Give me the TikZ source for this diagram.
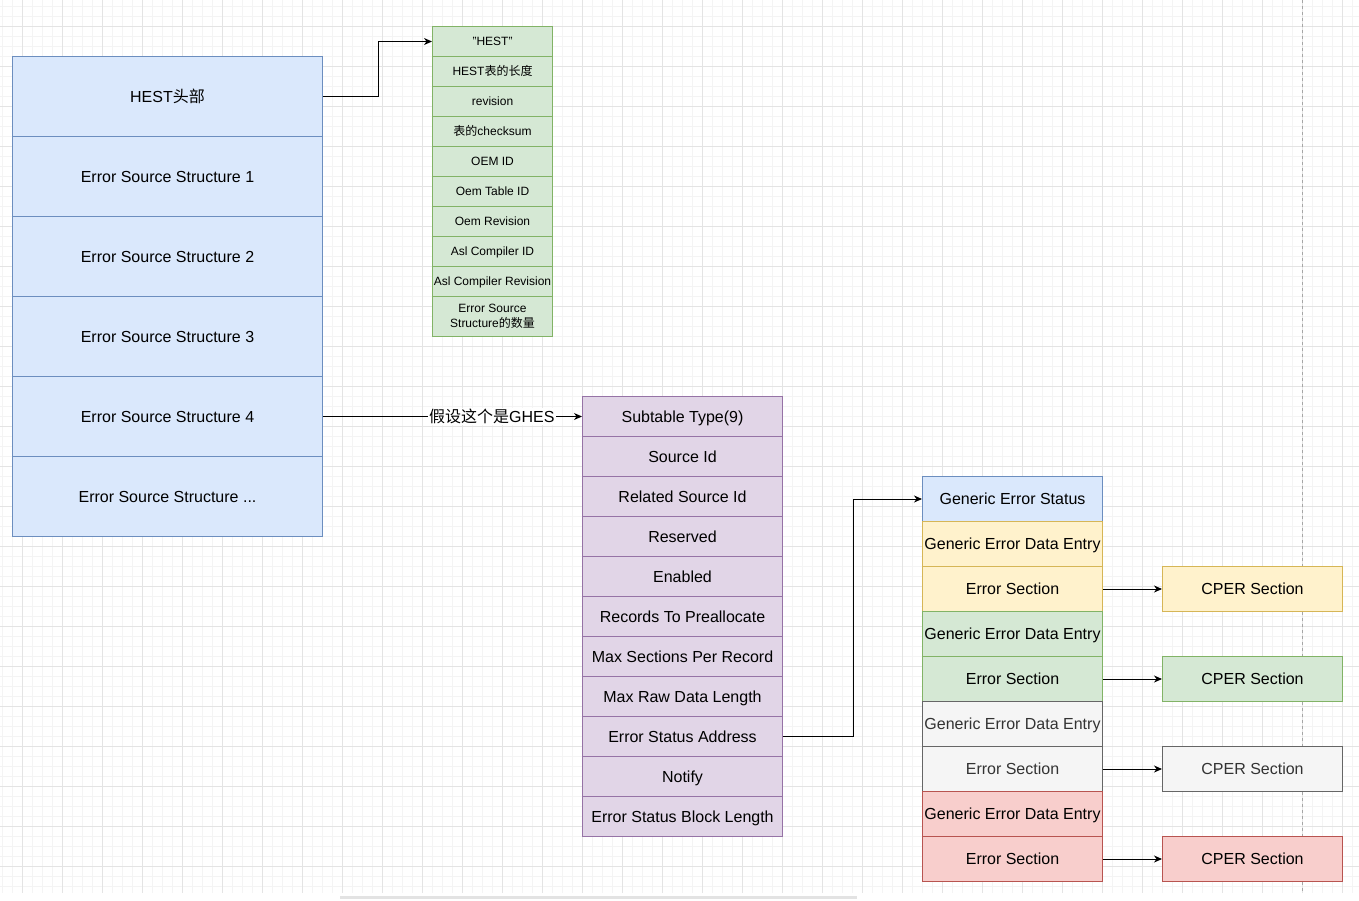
\documentclass[tikz,border=0pt]{standalone}
\usepackage{fontspec}
\setmainfont{Liberation Sans}
\newfontfamily\cjk{Noto Sans CJK SC}
\usetikzlibrary{arrows.meta,calc}
\definecolor{bluefill}{HTML}{DAE8FC}\definecolor{bluedraw}{HTML}{6C8EBF}
\definecolor{greenfill}{HTML}{D5E8D4}\definecolor{greendraw}{HTML}{82B366}
\definecolor{purplefill}{HTML}{E1D5E7}\definecolor{purpledraw}{HTML}{9673A6}
\definecolor{yellowfill}{HTML}{FFF2CC}\definecolor{yellowdraw}{HTML}{D6B656}
\definecolor{grayfill}{HTML}{F5F5F5}\definecolor{graydraw}{HTML}{666666}\definecolor{graytext}{HTML}{333333}
\definecolor{redfill}{HTML}{F8CECC}\definecolor{reddraw}{HTML}{B85450}
\definecolor{minorgridc}{HTML}{F4F4F4}\definecolor{majorgridc}{HTML}{E4E4E4}
\tikzset{
  cell/.style={draw, rectangle, anchor=north west, inner sep=0pt, line width=1pt,
    font=\fontsize{16}{19}\selectfont, align=center, text=black,
    text height=12pt, text depth=0.5pt},
  smallcell/.style={cell, font=\fontsize{12}{15}\selectfont, text height=9pt, text depth=0.4pt},
  bluebox/.style={fill=bluefill, draw=bluedraw},
  greenbox/.style={fill=greenfill, draw=greendraw},
  purplebox/.style={fill=purplefill, draw=purpledraw},
  yellowbox/.style={fill=yellowfill, draw=yellowdraw},
  graybox/.style={fill=grayfill, draw=graydraw, text=graytext},
  redbox/.style={fill=redfill, draw=reddraw},
  conn/.style={line width=1pt, draw=black, -{Stealth[length=8pt,width=7pt,inset=2.5pt]}},
  minorgrid/.style={draw=minorgridc, line width=0.8pt},
  majorgrid/.style={draw=majorgridc, line width=0.9pt},
}
\begin{document}
\begin{tikzpicture}[x=1pt,y=-1pt]
\useasboundingbox (0,0) rectangle (1359,900);
\fill[white] (0,0) rectangle (1359,900);
% grid
\foreach \x in {2,12,...,1352} \draw[minorgrid] (\x,0) -- (\x,893);
\foreach \y in {6,16,...,886} \draw[minorgrid] (0,\y) -- (1359,\y);
\foreach \x in {22,62,...,1342} \draw[majorgrid] (\x,0) -- (\x,893);
\foreach \y in {26,66,...,866} \draw[majorgrid] (0,\y) -- (1359,\y);
\draw[draw=gray!70, line width=0.8pt, dash pattern=on 3pt off 3pt] (1302,0) -- (1302,893);
\fill[gray!22] (340,896) rectangle (857,899);

% left stack
\node[cell, bluebox, minimum width=310, minimum height=80] (hest) at (12,56) {HEST{\cjk 头部}};
\node[cell, bluebox, minimum width=310, minimum height=80] (es1) at (12,136) {Error Source Structure 1};
\node[cell, bluebox, minimum width=310, minimum height=80] (es2) at (12,216) {Error Source Structure 2};
\node[cell, bluebox, minimum width=310, minimum height=80] (es3) at (12,296) {Error Source Structure 3};
\node[cell, bluebox, minimum width=310, minimum height=80] (es4) at (12,376) {Error Source Structure 4};
\node[cell, bluebox, minimum width=310, minimum height=80] (es5) at (12,456) {Error Source Structure ...};

% green stack
\node[smallcell, greenbox, minimum width=120, minimum height=30] (g1) at (432,26) {"HEST"};
\node[smallcell, greenbox, minimum width=120, minimum height=30] (g2) at (432,56) {HEST{\cjk 表的长度}};
\node[smallcell, greenbox, minimum width=120, minimum height=30] (g3) at (432,86) {revision};
\node[smallcell, greenbox, minimum width=120, minimum height=30] (g4) at (432,116) {{\cjk 表的}checksum};
\node[smallcell, greenbox, minimum width=120, minimum height=30] (g5) at (432,146) {OEM ID};
\node[smallcell, greenbox, minimum width=120, minimum height=30] (g6) at (432,176) {Oem Table ID};
\node[smallcell, greenbox, minimum width=120, minimum height=30] (g7) at (432,206) {Oem Revision};
\node[smallcell, greenbox, minimum width=120, minimum height=30] (g8) at (432,236) {Asl Compiler ID};
\node[smallcell, greenbox, minimum width=120, minimum height=30] (g9) at (432,266) {Asl Compiler Revision};
\node[smallcell, greenbox, minimum width=120, minimum height=40, text height={}, text depth={}] (g10) at (432,296) {Error Source\\Structure{\cjk 的数量}};

% purple stack
\node[cell, purplebox, minimum width=200, minimum height=40] (p1) at (582,396) {Subtable Type(9)};
\node[cell, purplebox, minimum width=200, minimum height=40] (p2) at (582,436) {Source Id};
\node[cell, purplebox, minimum width=200, minimum height=40] (p3) at (582,476) {Related Source Id};
\node[cell, purplebox, minimum width=200, minimum height=40] (p4) at (582,516) {Reserved};
\node[cell, purplebox, minimum width=200, minimum height=40] (p5) at (582,556) {Enabled};
\node[cell, purplebox, minimum width=200, minimum height=40] (p6) at (582,596) {Records To Preallocate};
\node[cell, purplebox, minimum width=200, minimum height=40] (p7) at (582,636) {Max Sections Per Record};
\node[cell, purplebox, minimum width=200, minimum height=40] (p8) at (582,676) {Max Raw Data Length};
\node[cell, purplebox, minimum width=200, minimum height=40] (p9) at (582,716) {Error Status Address};
\node[cell, purplebox, minimum width=200, minimum height=40] (p10) at (582,756) {Notify};
\node[cell, purplebox, minimum width=200, minimum height=40] (p11) at (582,796) {Error Status Block Length};

% right stack
\node[cell, bluebox, minimum width=180, minimum height=45] (r1) at (922,476) {Generic Error Status};
\node[cell, yellowbox, minimum width=180, minimum height=45] (r2) at (922,521) {Generic Error Data Entry};
\node[cell, yellowbox, minimum width=180, minimum height=45] (r3) at (922,566) {Error Section};
\node[cell, greenbox, minimum width=180, minimum height=45] (r4) at (922,611) {Generic Error Data Entry};
\node[cell, greenbox, minimum width=180, minimum height=45] (r5) at (922,656) {Error Section};
\node[cell, graybox, minimum width=180, minimum height=45] (r6) at (922,701) {Generic Error Data Entry};
\node[cell, graybox, minimum width=180, minimum height=45] (r7) at (922,746) {Error Section};
\node[cell, redbox, minimum width=180, minimum height=45] (r8) at (922,791) {Generic Error Data Entry};
\node[cell, redbox, minimum width=180, minimum height=45] (r9) at (922,836) {Error Section};

% CPER sections
\node[cell, yellowbox, minimum width=180, minimum height=45] (c1) at (1162,566) {CPER Section};
\node[cell, greenbox, minimum width=180, minimum height=45] (c2) at (1162,656) {CPER Section};
\node[cell, graybox, minimum width=180, minimum height=45] (c3) at (1162,746) {CPER Section};
\node[cell, redbox, minimum width=180, minimum height=45] (c4) at (1162,836) {CPER Section};

% connectors
\draw[conn] (hest.east) -- ++(55,0) |- (g1.west);
\draw[conn] (es4.east) -- node[pos=0.652, fill=white, inner sep=1pt, font=\fontsize{16}{19}\selectfont] (lbl) {{\cjk 假设这个是}GHES} (p1.west);
\draw[conn] (p9.east) -- ++(70,0) |- (r1.west);
\draw[conn] (r3.east) -- (c1.west);
\draw[conn] (r5.east) -- (c2.west);
\draw[conn] (r7.east) -- (c3.west);
\draw[conn] (r9.east) -- (c4.west);
\end{tikzpicture}
\end{document}
